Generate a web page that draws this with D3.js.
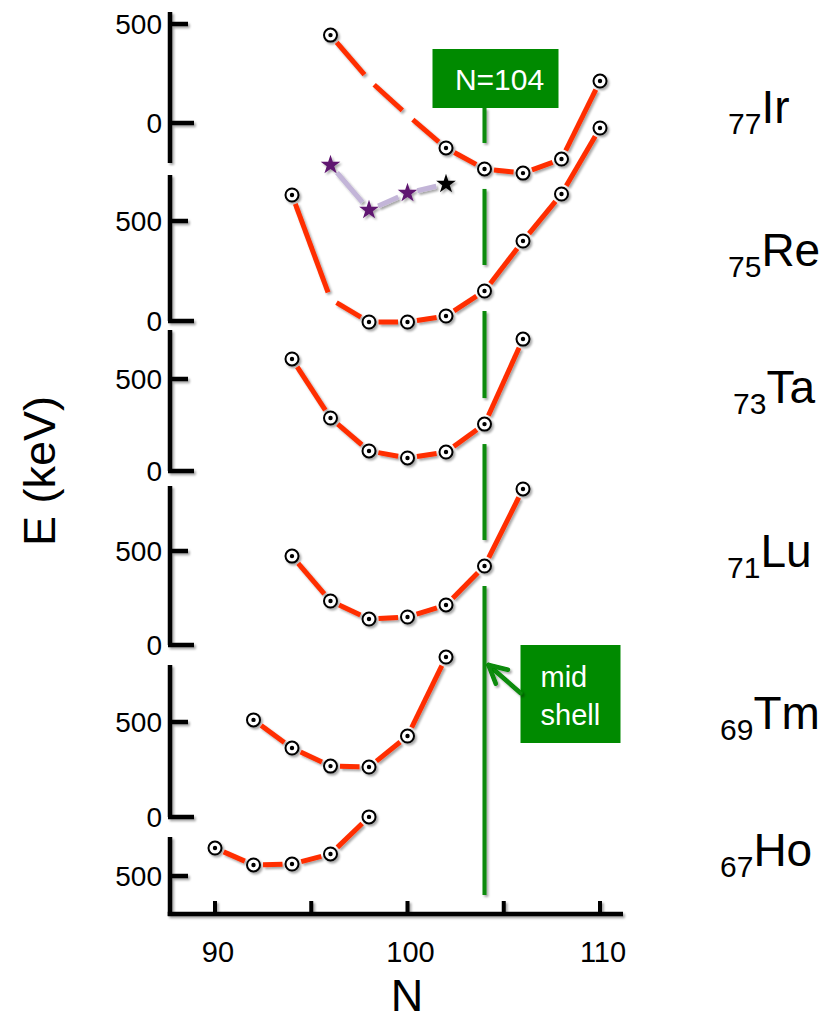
<!DOCTYPE html>
<html><head><meta charset="utf-8">
<script src="https://cdn.jsdelivr.net/npm/d3@7"></script>
<style>
body{margin:0;background:#fff}
svg{display:block}
text{font-family:"Liberation Sans",Arial,Helvetica,sans-serif;fill:#000}
</style>
</head><body>
<svg id="chart" width="828" height="1021"></svg>
<script>
// Nuclides, top to bottom
const elements = ["Ir", "Re", "Ta", "Lu", "Tm", "Ho"];
const protonNumbers = [77, 75, 73, 71, 69, 67];

// Neutron number and level energy (keV); 0 in a "shown" list = no symbol at that point
const irN = [96, 98, 100, 102, 104, 106, 108, 110];
const irE = [444, 217, 40, -126, -232, -253, -182, 212];
const irShown = [1, 0, 0, 1, 1, 1, 1, 1];

const reN = [94, 96, 98, 100, 102, 104, 106, 108, 110];
const reE = [630, 110, -5, -5, 25, 150, 400, 635, 965];
const reShown = [1, 0, 1, 1, 1, 1, 1, 1, 1];

const taN = [94, 96, 98, 100, 102, 104, 106];
const taE = [609, 288, 109, 71, 103, 255, 717];

const luN = [94, 96, 98, 100, 102, 104, 106];
const luE = [473, 234, 138, 149, 213, 420, 830];

const tmN = [92, 94, 96, 98, 100, 102];
const tmE = [511, 363, 268, 263, 426, 842];

const hoN = [90, 92, 94, 96, 98];
const hoE = [647, 558, 563, 616, 811];

// Second Re sequence (stars); the last one drawn in black
const starN = [96, 98, 100, 102];
const starE = [780, 555, 640, 685];

const xTicks = [90, 95, 100, 105, 110];
const yTicks = [0, 500];
const midShellN = 104;

// Vertical placement of each stacked panel (pixel rows of 0 and 500 keV, axis extent)
const panelLayout = [
  { y0: 123, y500: 24,  top: 12,  bottom: 163 },
  { y0: 321, y500: 221, top: 175, bottom: 321 },
  { y0: 471, y500: 379, top: 330, bottom: 471 },
  { y0: 645, y500: 551, top: 486, bottom: 645 },
  { y0: 817, y500: 722, top: 665, bottom: 817 },
  { y0: 971, y500: 876, top: 837, bottom: 916 }
];
// Element label positions (left x, baseline y)
const labelPos = [[728, 123], [728, 266], [733, 403], [727, 567], [720, 729], [720, 866]];

const series = [
  { n: irN, e: irE, shown: irShown },
  { n: reN, e: reE, shown: reShown },
  { n: taN, e: taE },
  { n: luN, e: luE },
  { n: tmN, e: tmE },
  { n: hoN, e: hoE }
];

const RED = "#ff2d00", GREEN = "#078a07", LAV = "#c3b5d8", PURPLE = "#5e1370";
const axisX = 170, axisY = 914;

const svg = d3.select("#chart");
const defs = svg.append("defs");
defs.append("filter").attr("id", "shadow")
  .attr("filterUnits", "userSpaceOnUse")
  .attr("x", 0).attr("y", 0).attr("width", 828).attr("height", 1021)
  .append("feDropShadow")
  .attr("dx", 1.8).attr("dy", 2).attr("stdDeviation", 1.3)
  .attr("flood-color", "#000").attr("flood-opacity", 0.35);

const x = d3.scaleLinear().domain([90, 110]).range([215, 600]);
const yScales = panelLayout.map(p => d3.scaleLinear().domain([0, 500]).range([p.y0, p.y500]));

// ---- axes ----
const axes = svg.append("g").attr("filter", "url(#shadow)");
panelLayout.forEach((p, i) => {
  const y = yScales[i];
  axes.append("line")
    .attr("x1", axisX).attr("x2", axisX)
    .attr("y1", p.top).attr("y2", p.bottom)
    .attr("stroke", "#000").attr("stroke-width", 4.5);
  yTicks.filter(t => y(t) >= p.top - 1 && y(t) <= p.bottom + 1).forEach(t => {
    axes.append("line")
      .attr("x1", axisX - 2).attr("x2", t === 0 ? 194 : 188)
      .attr("y1", y(t)).attr("y2", y(t))
      .attr("stroke", "#000").attr("stroke-width", 4.5);
  });
});
axes.append("line")
  .attr("x1", axisX - 2.25).attr("x2", 623)
  .attr("y1", axisY).attr("y2", axisY)
  .attr("stroke", "#000").attr("stroke-width", 4.5);
xTicks.forEach(t => {
  axes.append("line")
    .attr("x1", x(t)).attr("x2", x(t))
    .attr("y1", axisY).attr("y2", axisY - 13)
    .attr("stroke", "#000").attr("stroke-width", 4);
});

// tick labels
panelLayout.forEach((p, i) => {
  const y = yScales[i];
  yTicks.filter(t => y(t) >= p.top - 1 && y(t) <= p.bottom + 1).forEach(t => {
    svg.append("text")
      .attr("x", 162).attr("y", y(t)).attr("dy", "0.36em")
      .attr("text-anchor", "end").attr("font-size", 28)
      .text(t);
  });
});
xTicks.filter(t => t % 10 === 0).forEach(t => {
  svg.append("text")
    .attr("x", x(t) + 3).attr("y", 962)
    .attr("text-anchor", "middle").attr("font-size", 29)
    .text(t);
});

// axis titles
svg.append("text")
  .attr("transform", "translate(55,471) rotate(-90)")
  .attr("text-anchor", "middle").attr("font-size", 45)
  .text("E (keV)");
svg.append("text")
  .attr("x", 407).attr("y", 1011)
  .attr("text-anchor", "middle").attr("font-size", 45)
  .text("N");

// ---- N = 104 guide line, interrupted where the curves cross it ----
const guideX = x(midShellN);
const crossings = series.map((s, i) => {
  const k = s.n.indexOf(midShellN);
  return k >= 0 ? yScales[i](s.e[k]) : null;
}).filter(v => v !== null).sort((a, b) => a - b);
let segStart = 108;
const guideSegs = [];
crossings.forEach(c => {
  guideSegs.push([segStart, c - 26]);
  segStart = c + 20;
});
guideSegs.push([segStart, 895]);
const guide = svg.append("g").attr("filter", "url(#shadow)");
guideSegs.forEach(([a, b]) => {
  guide.append("line")
    .attr("x1", guideX).attr("x2", guideX)
    .attr("y1", a).attr("y2", b)
    .attr("stroke", GREEN).attr("stroke-width", 4);
});

// ---- curves ----
function gappedSegments(g, pts, gapOf, color, width) {
  for (let i = 0; i < pts.length - 1; i++) {
    const p = pts[i], q = pts[i + 1];
    const dx = q[0] - p[0], dy = q[1] - p[1];
    const len = Math.hypot(dx, dy);
    const ux = dx / len, uy = dy / len;
    const g0 = gapOf(i), g1 = gapOf(i + 1);
    g.append("line")
      .attr("x1", p[0] + ux * g0).attr("y1", p[1] + uy * g0)
      .attr("x2", q[0] - ux * g1).attr("y2", q[1] - uy * g1)
      .attr("stroke", color).attr("stroke-width", width);
  }
}

const curves = svg.append("g").attr("filter", "url(#shadow)");
series.forEach((s, i) => {
  const y = yScales[i];
  const shown = s.shown || s.n.map(() => 1);
  const pts = s.n.map((n, k) => [x(n), y(s.e[k])]);
  gappedSegments(curves, pts, k => shown[k] ? 9.5 : 7, RED, 5);
  pts.forEach((p, k) => {
    if (!shown[k]) return;
    curves.append("circle")
      .attr("cx", p[0]).attr("cy", p[1]).attr("r", 6.5)
      .attr("fill", "#fff").attr("stroke", "#000").attr("stroke-width", 2);
    curves.append("circle")
      .attr("cx", p[0]).attr("cy", p[1]).attr("r", 2.2)
      .attr("fill", "#000");
  });
});

// stars in the Re panel
const yRe = yScales[1];
const starPts = starN.map((n, k) => [x(n), yRe(starE[k])]);
gappedSegments(curves, starPts, () => 10, LAV, 5);
const starPath = d3.symbol(d3.symbolStar).size(120)();
starPts.forEach((p, k) => {
  curves.append("path")
    .attr("d", starPath)
    .attr("transform", `translate(${p[0]},${p[1]})`)
    .attr("fill", k === starPts.length - 1 ? "#000" : PURPLE);
});

// ---- element labels ----
elements.forEach((el, i) => {
  const [lx, ly] = labelPos[i];
  const t = svg.append("text").attr("x", lx).attr("y", ly);
  t.append("tspan").attr("font-size", 30).attr("dy", 11).text(protonNumbers[i]);
  t.append("tspan").attr("font-size", 46).attr("dy", -11).text(el);
});

// ---- annotations ----
const ann = svg.append("g");
ann.append("rect")
  .attr("x", guideX - 52).attr("y", 49).attr("width", 126).attr("height", 59)
  .attr("fill", "#008a00");
ann.append("text")
  .attr("x", guideX + 15).attr("y", 90)
  .attr("text-anchor", "middle").attr("font-size", 30)
  .style("fill", "#fff").text("N=104");

ann.append("rect")
  .attr("x", guideX + 36).attr("y", 645).attr("width", 100).attr("height", 98)
  .attr("fill", "#008a00");
ann.append("text")
  .attr("x", guideX + 56).attr("y", 687).attr("font-size", 29)
  .style("fill", "#fff").text("mid");
ann.append("text")
  .attr("x", guideX + 56).attr("y", 725).attr("font-size", 29)
  .style("fill", "#fff").text("shell");

// arrow from the box to the guide line
const tip = [guideX + 4, 665], tail = [guideX + 36, 693];
const ang = Math.atan2(tail[1] - tip[1], tail[0] - tip[0]);
const arm = 20, spread = 0.48;
const arrow = svg.append("g").attr("filter", "url(#shadow)")
  .attr("stroke", GREEN).attr("stroke-width", 4.5).attr("fill", "none")
  .attr("stroke-linecap", "round").attr("stroke-linejoin", "round");
arrow.append("line")
  .attr("x1", tail[0]).attr("y1", tail[1]).attr("x2", tip[0]).attr("y2", tip[1]);
arrow.append("path")
  .attr("d", d3.line()([
    [tip[0] + arm * Math.cos(ang - spread), tip[1] + arm * Math.sin(ang - spread)],
    tip,
    [tip[0] + arm * Math.cos(ang + spread), tip[1] + arm * Math.sin(ang + spread)]
  ]));
</script>
</body></html>
